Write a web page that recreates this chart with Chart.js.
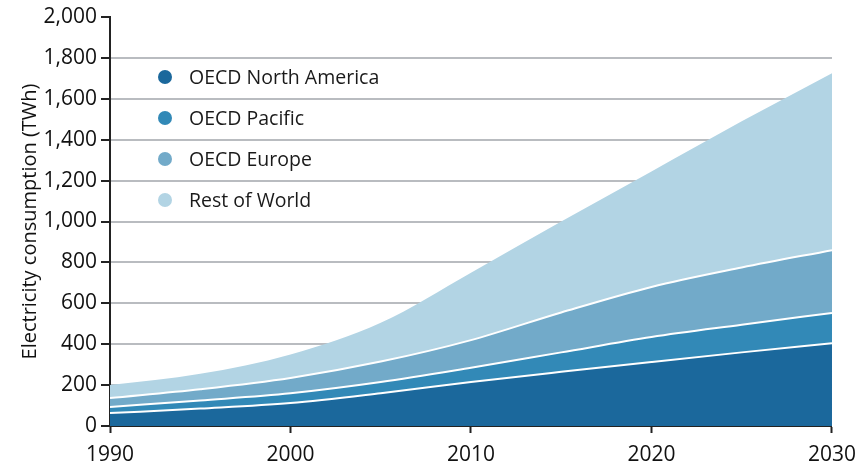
<!DOCTYPE html>
<html>
<head>
<meta charset="utf-8">
<script src="https://cdn.jsdelivr.net/npm/chart.js@4"></script>
<style>
  body { margin: 0; background: #fff; }
  #wrap { position: relative; width: 865px; height: 464px; }
  #legend { position: absolute; left: 158px; top: 63px; font-family: "Open Sans", sans-serif; font-size: 19.5px; color: #1a1a1a; }
  .item { height: 41px; display: flex; align-items: flex-start; }
  .dot { width: 14px; height: 14px; border-radius: 50%; margin-right: 17px; margin-top: 7px; }
</style>
</head>
<body>
<div id="wrap">
  <canvas id="chart" width="865" height="464"></canvas>
  <div id="legend"></div>
</div>
<script>
// --- data ---
const years = [1990, 1995, 2000, 2005, 2010, 2015, 2020, 2025, 2030];
const northAmerica = [63, 85, 112, 160, 215, 265, 313, 360, 405];
const pacific = [30, 40, 48, 55, 70, 95, 122, 135, 148];
const europe = [44, 55, 75, 100, 135, 195, 245, 280, 307];
const restOfWorld = [63, 75, 115, 190, 330, 445, 565, 715, 865];

const seriesNames = ["OECD North America", "OECD Pacific", "OECD Europe", "Rest of World"];
const seriesColors = ["#1b689c", "#3289b7", "#72aac9", "#b2d4e4"];
const seriesData = [northAmerica, pacific, europe, restOfWorld];

const datasets = seriesData.map((vals, i) => ({
  label: seriesNames[i],
  data: vals.map((v, j) => ({ x: years[j], y: v })),
  backgroundColor: seriesColors[i],
  borderColor: "#ffffff",
  borderWidth: i === 3 ? 0 : 2,
  fill: i === 0 ? "origin" : "-1",
  pointRadius: 0,
  cubicInterpolationMode: "monotone",
}));

// legend (inside plot, top-left)
const legend = document.getElementById("legend");
seriesNames.forEach((name, i) => {
  legend.innerHTML += `<div class="item"><span class="dot" style="background:${seriesColors[i]}"></span>${name}</div>`;
});

const tickFont = { family: "Open Sans", size: 21 };

new Chart(document.getElementById("chart"), {
  type: "line",
  data: { datasets: datasets },
  options: {
    responsive: false,
    animation: false,
    layout: { padding: { top: 17, right: 32, left: 0, bottom: 0 } },
    plugins: { legend: { display: false }, tooltip: { enabled: false } },
    scales: {
      x: {
        type: "linear",
        min: 1990,
        max: 2030,
        ticks: { stepSize: 10, color: "#111", font: tickFont, padding: 9, callback: (v) => String(v) },
        grid: { drawOnChartArea: false, drawTicks: true, tickLength: 7, tickColor: "#222", tickWidth: 2 },
        border: { color: "#222", width: 2 },
        afterFit: (s) => { s.height = 38; },
      },
      y: {
        stacked: true,
        min: 0,
        max: 2000,
        ticks: { stepSize: 200, color: "#111", font: tickFont, padding: 4 },
        grid: {
          color: (ctx) => (ctx.tick.value === 0 || ctx.tick.value === 2000 ? "rgba(0,0,0,0)" : "#b9bcc0"),
          lineWidth: 2,
          tickLength: 9,
          tickColor: "#222",
          tickWidth: 2,
        },
        border: { color: "#222", width: 2 },
        title: { display: true, text: "Electricity consumption (TWh)", color: "#111", font: { family: "Open Sans", size: 20 }, padding: { top: 18, bottom: 0 } },
        afterFit: (s) => { s.width = 110; },
      },
    },
  },
});
</script>
</body>
</html>
